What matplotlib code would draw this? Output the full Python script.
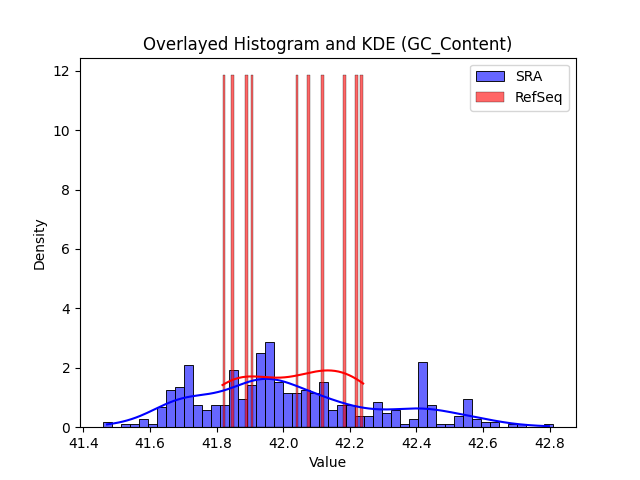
"""
Overlayed histogram + KDE of GC content, SRA vs RefSeq
"""
import numpy as np
import matplotlib
matplotlib.use("Agg")
import matplotlib.pyplot as plt
import seaborn as sns

# ----------------------------------------------------------------------------
# Data
# ----------------------------------------------------------------------------

# SRA: 50 equal bins between the min and max GC content, counts per bin
sra_min = 41.458
sra_max = 42.811
sra_counts = [2, 0, 1, 1, 3, 1, 7, 13, 14, 22,
              8, 6, 8, 8, 20, 10, 15, 26, 30, 16,
              12, 12, 13, 12, 16, 6, 8, 8, 4, 4,
              9, 5, 6, 1, 3, 23, 8, 1, 1, 4,
              10, 3, 2, 2, 0, 1, 1, 0, 0, 1]

# RefSeq: individual GC content values
refseq_values = [41.818, 41.846, 41.888, 41.906, 42.041,
                 42.075, 42.116, 42.183, 42.216, 42.240]

# ----------------------------------------------------------------------------
# Rebuild the SRA sample from the bin counts
# ----------------------------------------------------------------------------
sra_edges = np.linspace(sra_min, sra_max, len(sra_counts) + 1)
sra_centers = 0.5 * (sra_edges[:-1] + sra_edges[1:])
sra_values = np.repeat(sra_centers, sra_counts)

fig, ax = plt.subplots(figsize=(6.4, 4.8), dpi=100)

sns.histplot(sra_values, bins=sra_edges, kde=True, stat="density",
             color="blue", alpha=0.6, label="SRA", ax=ax)
sns.histplot(refseq_values, bins=50, kde=True, stat="density",
             color="red", alpha=0.6, label="RefSeq", ax=ax)

ax.set_title("Overlayed Histogram and KDE (GC_Content)")
ax.set_xlabel("Value")
ax.set_ylabel("Density")
ax.legend()

plt.savefig("out.png")
